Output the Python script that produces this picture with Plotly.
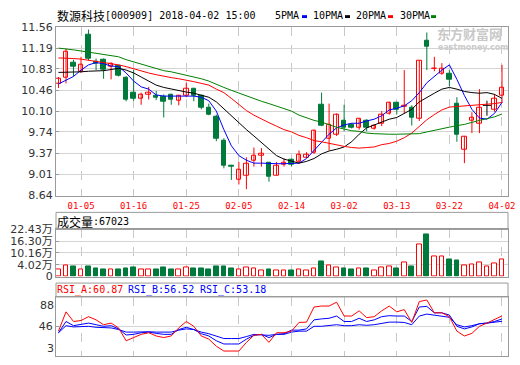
import plotly.graph_objects as go

# ---------------- data ----------------
dates = ["01-02", "01-03", "01-04", "01-05", "01-08", "01-09", "01-10", "01-11", "01-12", "01-15",
         "01-16", "01-17", "01-18", "01-19", "01-22", "01-23", "01-24", "01-25", "01-26", "01-29",
         "01-30", "01-31", "02-01", "02-02", "02-05", "02-06", "02-07", "02-08", "02-09", "02-12",
         "02-13", "02-14", "02-22", "02-23", "02-26", "02-27", "02-28", "03-01", "03-02", "03-05",
         "03-06", "03-07", "03-08", "03-09", "03-12", "03-13", "03-14", "03-15", "03-16", "03-19",
         "03-20", "03-21", "03-22", "03-23", "03-26", "03-27", "03-28", "03-29", "03-30", "04-02"]

open_ = [10.57, 10.67, 10.93, 10.79, 11.43, 10.95, 10.99, 10.87, 10.88, 10.67,
         10.41, 10.32, 10.39, 10.36, 10.35, 10.38, 10.28, 10.37, 10.49, 10.36,
         10.15, 10.01, 9.58, 9.16, 8.92, 8.98, 9.24, 9.33, 9.20, 8.99,
         9.18, 9.26, 9.22, 9.30, 9.38, 10.21, 9.63, 9.69, 9.94, 9.86,
         9.81, 9.93, 9.80, 9.89, 10.06, 10.24, 10.17, 10.15, 9.96, 11.32,
         10.83, 10.75, 10.74, 10.23, 9.43, 9.93, 9.89, 10.20, 10.12, 10.36]
high = [10.69, 11.18, 10.99, 11.04, 11.51, 11.01, 11.01, 10.94, 10.90, 10.70,
        10.81, 10.42, 10.52, 10.45, 10.39, 10.40, 10.38, 10.59, 10.49, 10.38,
        10.23, 10.04, 9.63, 9.17, 9.22, 9.30, 9.47, 9.46, 9.22, 9.22,
        9.28, 9.28, 9.42, 9.39, 9.78, 10.42, 10.23, 10.06, 10.21, 9.89,
        9.98, 9.96, 9.87, 10.10, 10.26, 10.26, 10.81, 10.20, 10.98, 11.46,
        11.04, 10.93, 10.81, 10.34, 9.67, 10.08, 10.48, 10.28, 10.39, 10.90]
low = [10.50, 10.58, 10.70, 10.76, 10.98, 10.81, 10.66, 10.65, 10.70, 10.27,
       10.28, 10.21, 10.30, 10.29, 9.99, 10.21, 10.20, 10.34, 10.27, 10.13,
       10.03, 9.58, 9.11, 8.91, 8.83, 8.75, 9.14, 9.14, 8.88, 8.99,
       9.14, 9.14, 9.19, 9.29, 9.36, 9.84, 9.42, 9.67, 9.75, 9.80,
       9.78, 9.75, 9.78, 9.84, 10.04, 10.04, 10.06, 9.85, 9.93, 10.81,
       10.79, 10.73, 10.53, 9.57, 9.20, 9.72, 9.72, 10.02, 10.09, 10.24]
close = [10.66, 11.12, 10.86, 10.90, 11.01, 10.92, 10.81, 10.92, 10.71, 10.29,
         10.32, 10.38, 10.42, 10.34, 10.27, 10.30, 10.36, 10.48, 10.37, 10.15,
         10.04, 9.62, 9.16, 9.13, 9.09, 9.19, 9.32, 9.36, 8.97, 9.16,
         9.20, 9.18, 9.34, 9.35, 9.76, 9.85, 9.86, 10.03, 9.82, 9.81,
         9.96, 9.82, 9.85, 10.04, 10.24, 10.13, 10.20, 9.98, 10.97, 11.22,
         10.84, 10.83, 10.65, 9.70, 9.65, 9.99, 10.15, 10.20, 10.32, 10.51]

ma5 = [10.57, 10.64, 10.70, 10.81, 10.90, 10.94, 10.92, 10.88, 10.87, 10.76,
       10.62, 10.52, 10.48, 10.38, 10.36, 10.36, 10.36, 10.36, 10.36, 10.34,
       10.28, 10.10, 9.78, 9.50, 9.33, 9.25, 9.20, 9.20, 9.19, 9.19,
       9.19, 9.19, 9.20, 9.28, 9.42, 9.56, 9.70, 9.81, 9.86, 9.89,
       9.89, 9.93, 9.96, 10.02, 10.12, 10.15, 10.19, 10.28, 10.42, 10.59,
       10.70, 10.81, 10.90, 10.65, 10.37, 10.13, 9.98, 9.96, 10.06, 10.25]
ma10 = [10.77, 10.77, 10.78, 10.78, 10.79, 10.79, 10.80, 10.82, 10.84, 10.81,
        10.76, 10.69, 10.62, 10.55, 10.51, 10.48, 10.45, 10.43, 10.41, 10.38,
        10.34, 10.26, 10.14, 10.01, 9.90, 9.78, 9.67, 9.56, 9.44, 9.33,
        9.27, 9.24, 9.20, 9.23, 9.28, 9.36, 9.41, 9.44, 9.48, 9.57,
        9.70, 9.81, 9.86, 9.92, 9.96, 9.99, 10.06, 10.13, 10.26, 10.34,
        10.41, 10.48, 10.51, 10.48, 10.44, 10.42, 10.41, 10.42, 10.39, 10.32]
ma20 = [11.02, 11.02, 11.01, 11.00, 10.98, 10.97, 10.95, 10.93, 10.90, 10.87,
        10.83, 10.79, 10.76, 10.73, 10.70, 10.68, 10.66, 10.64, 10.61, 10.58,
        10.55, 10.48, 10.42, 10.32, 10.21, 10.11, 10.03, 9.96, 9.90, 9.84,
        9.78, 9.74, 9.68, 9.64, 9.59, 9.57, 9.54, 9.52, 9.49, 9.47,
        9.46, 9.47, 9.48, 9.52, 9.54, 9.58, 9.64, 9.72, 9.84, 9.95,
        10.04, 10.12, 10.17, 10.18, 10.18, 10.19, 10.20, 10.21, 10.23, 10.25]
ma30 = [11.19, 11.18, 11.16, 11.14, 11.12, 11.09, 11.08, 11.06, 11.04, 10.99,
        10.95, 10.92, 10.87, 10.83, 10.80, 10.78, 10.75, 10.72, 10.70, 10.66,
        10.62, 10.56, 10.51, 10.46, 10.41, 10.36, 10.31, 10.27, 10.23, 10.19,
        10.15, 10.10, 10.03, 9.98, 9.94, 9.91, 9.86, 9.82, 9.79, 9.76,
        9.75, 9.72, 9.71, 9.70, 9.70, 9.70, 9.70, 9.70, 9.71, 9.74,
        9.77, 9.80, 9.82, 9.85, 9.87, 9.91, 9.94, 9.97, 10.00, 10.05]

volume_wan = [1.49, 3.67, 3.17, 1.83, 3.17, 2.16, 1.66, 1.66, 1.66, 2.16,
              2.66, 1.66, 1.66, 1.66, 2.66, 1.66, 1.66, 2.66, 2.16, 2.16,
              1.83, 3.17, 3.17, 2.16, 1.66, 2.50, 2.16, 1.16, 1.49, 0.82,
              0.82, 1.16, 1.49, 0.99, 2.16, 5.68, 3.50, 2.66, 2.16, 1.66,
              2.16, 2.16, 1.16, 2.66, 3.17, 2.16, 5.01, 3.17, 14.56, 19.75,
              8.53, 8.53, 6.85, 6.18, 3.50, 4.01, 5.01, 3.17, 4.51, 6.70]

rsi_a = [39.1, 66.7, 52.9, 54.3, 59.8, 55.2, 48.3, 50.6, 43.7, 25.3,
         29.9, 34.5, 36.8, 32.2, 29.9, 32.2, 43.7, 52.9, 46.0, 32.2,
         27.6, 17.5, 10.6, 10.6, 10.6, 23.0, 33.1, 34.5, 23.0, 36.8,
         36.8, 39.1, 51.5, 52.0, 73.6, 75.0, 75.0, 80.5, 60.7, 60.7,
         68.1, 58.4, 59.8, 68.1, 75.0, 66.7, 69.9, 51.5, 81.4, 83.7,
         65.3, 65.3, 59.8, 39.1, 32.2, 35.9, 46.0, 50.6, 55.2, 60.87]
rsi_b = [36.8, 52.9, 46.9, 48.3, 50.6, 48.3, 46.0, 46.9, 42.3, 33.6,
         34.5, 36.8, 37.7, 35.9, 34.5, 34.5, 41.4, 44.6, 41.4, 35.4,
         32.2, 25.3, 20.7, 20.7, 20.7, 27.6, 33.1, 34.5, 29.9, 34.5,
         35.4, 40.5, 40.5, 42.3, 55.2, 56.6, 57.5, 60.7, 52.9, 52.9,
         57.5, 52.9, 55.2, 59.8, 61.2, 60.7, 60.7, 52.9, 73.6, 74.5,
         65.3, 65.3, 62.1, 46.0, 42.3, 45.1, 49.7, 50.6, 52.9, 56.52]
rsi_c = [36.8, 46.9, 45.1, 45.1, 46.0, 44.6, 43.7, 43.7, 41.4, 37.7,
         37.7, 38.2, 38.2, 37.7, 37.7, 37.7, 40.5, 42.3, 41.4, 37.7,
         35.4, 32.2, 28.5, 28.5, 28.5, 31.3, 34.5, 33.6, 33.1, 34.5,
         34.5, 37.7, 39.1, 39.1, 46.0, 46.0, 46.9, 48.3, 46.9, 46.9,
         48.3, 47.4, 48.3, 50.6, 52.0, 52.0, 51.5, 48.3, 60.7, 63.5,
         62.1, 60.7, 58.9, 48.3, 45.1, 46.9, 49.7, 50.6, 51.5, 53.18]

date_ticks = ["01-05", "01-16", "01-25", "02-05", "02-14", "03-02", "03-13", "03-22", "04-02"]
price_ticks = [11.56, 11.19, 10.83, 10.46, 10.10, 9.74, 9.37, 9.01, 8.64]
vol_ticks = [22.43, 16.30, 10.16, 4.02]
vol_axis_min = -2.11
rsi_ticks = [88, 46, 3]

title_cn = "数源科技"
title_rest = "[000909] 2018-04-02 15:00"
vol_header_cn = "成交量"
vol_header_val = ":67023"
rsi_labels = ["RSI_A:60.87", "RSI_B:56.52", "RSI_C:53.18"]
ma_labels = ["5PMA", "10PMA", "20PMA", "30PMA"]

# ---------------- style ----------------
W, H = 520, 365
PL, PR = 56, 508
RED = "#ff0000"
GREEN = "#007a3c"
BLUE = "#0000ff"
MA_COLORS = ["#0000ff", "#000000", "#ff0000", "#008000"]
BORDER = "#9a9a9a"
HGRID = "#d4d4d4"
VGRID = "#c8c8c8"
MONO = "DejaVu Sans Mono, Noto Sans CJK SC"
CJK = "Noto Sans CJK SC"
SANS = "DejaVu Sans, Noto Sans CJK SC"


def fx(p):
    return (p - PL) / (PR - PL)


def fy(p):
    return 1 - p / H


x = list(range(len(dates)))
up = [i for i in x if close[i] > open_[i]]
down = [i for i in x if close[i] < open_[i]]
flat = [i for i in x if close[i] == open_[i]]


def wicks(idx):
    xs, ys = [], []
    for i in idx:
        xs += [i, i, None]
        ys += [low[i], high[i], None]
    return xs, ys


fig = go.Figure()

# wicks
for idx, col in ((up, RED), (down, GREEN), (flat, "#000000")):
    wx, wy = wicks(idx)
    fig.add_trace(go.Scatter(x=wx, y=wy, mode="lines", line=dict(color=col, width=1),
                             hoverinfo="skip", showlegend=False, xaxis="x", yaxis="y"))

# bodies
fig.add_trace(go.Bar(x=up, y=[close[i] - open_[i] for i in up], base=[open_[i] for i in up],
                     width=0.6, marker=dict(color="#ffffff", line=dict(color=RED, width=1)),
                     showlegend=False, xaxis="x", yaxis="y"))
fig.add_trace(go.Bar(x=down, y=[open_[i] - close[i] for i in down], base=[close[i] for i in down],
                     width=0.6, marker=dict(color=GREEN, line=dict(color=GREEN, width=1)),
                     showlegend=False, xaxis="x", yaxis="y"))
fig.add_trace(go.Scatter(x=flat, y=[close[i] for i in flat], mode="markers",
                         marker=dict(symbol="line-ew", size=6, line=dict(color="#000000", width=1)),
                         showlegend=False, xaxis="x", yaxis="y"))

# moving averages
for ma, col, name in zip((ma5, ma10, ma20, ma30), MA_COLORS, ma_labels):
    fig.add_trace(go.Scatter(x=x, y=ma, mode="lines", name=name, line=dict(color=col, width=1),
                             showlegend=False, xaxis="x", yaxis="y"))

# volume
vol_up = [i for i in x if close[i] >= open_[i]]
vol_dn = [i for i in x if close[i] < open_[i]]
fig.add_trace(go.Bar(x=vol_up, y=[volume_wan[i] - vol_axis_min for i in vol_up],
                     base=[vol_axis_min] * len(vol_up), width=0.62,
                     marker=dict(color="#ffffff", line=dict(color=RED, width=1)),
                     showlegend=False, xaxis="x2", yaxis="y2"))
fig.add_trace(go.Bar(x=vol_dn, y=[volume_wan[i] - vol_axis_min for i in vol_dn],
                     base=[vol_axis_min] * len(vol_dn), width=0.62,
                     marker=dict(color=GREEN, line=dict(color=GREEN, width=1)),
                     showlegend=False, xaxis="x2", yaxis="y2"))

# RSI
for r, col in ((rsi_c, BLUE), (rsi_b, BLUE), (rsi_a, RED)):
    fig.add_trace(go.Scatter(x=x, y=r, mode="lines", line=dict(color=col, width=1),
                             showlegend=False, xaxis="x3", yaxis="y3"))

tickvals = [dates.index(d) for d in date_ticks]
xcommon = dict(range=[-0.33, 59.8], tickvals=tickvals, showgrid=True, gridcolor=VGRID,
               griddash="dash", gridwidth=1, zeroline=False, showline=True, linecolor=BORDER,
               linewidth=1, mirror=True, ticks="", fixedrange=True, domain=[0, 1])

MAIN_DOM = [fy(196.5), fy(21.5)]
VOL_DOM = [fy(280.5), fy(231.7)]
RSI_DOM = [fy(363.3), fy(301.7)]

ycommon = dict(showline=True, linecolor=BORDER, linewidth=1, mirror=True, zeroline=False,
               ticks="inside", ticklen=3, tickcolor=BORDER, fixedrange=True,
               tickfont=dict(family=SANS, size=11, color="#333333"))

fig.update_layout(
    width=W, height=H, margin=dict(l=PL, r=W - PR, t=0, b=0),
    paper_bgcolor="#ffffff", plot_bgcolor="#ffffff", barmode="overlay", bargap=0,
    showlegend=False,
    xaxis=dict(**xcommon, anchor="y", showticklabels=True, ticktext=date_ticks,
               ticklabelstandoff=2,
               tickfont=dict(family="DejaVu Sans Mono", size=9, color=RED)),
    xaxis2=dict(**xcommon, anchor="y2", showticklabels=False),
    xaxis3=dict(**xcommon, anchor="y3", showticklabels=False),
    yaxis=dict(**ycommon, domain=MAIN_DOM, range=[price_ticks[-1], price_ticks[0]],
               tickvals=price_ticks, ticktext=["%.2f" % v for v in price_ticks],
               showgrid=True, gridcolor=HGRID, gridwidth=1),
    yaxis2=dict(**ycommon, domain=VOL_DOM, range=[vol_axis_min, vol_ticks[0]],
                tickvals=vol_ticks + [vol_axis_min],
                ticktext=["%.2f万" % v for v in vol_ticks] + ["0"],
                showgrid=True, gridcolor=HGRID, gridwidth=1),
    yaxis3=dict(**ycommon, domain=RSI_DOM, range=[rsi_ticks[-1], rsi_ticks[0]],
                tickvals=[rsi_ticks[1]], ticktext=[str(rsi_ticks[1])],
                showgrid=True, gridcolor=HGRID, gridwidth=1),
)

ann = []


def text(s, xp, yp, family, size, color="#000000", anchor="left", bold=False):
    if bold:
        s = "<b>" + s + "</b>"
    ann.append(dict(text=s, x=fx(xp), y=fy(yp), xref="paper", yref="paper", xanchor=anchor,
                    yanchor="middle", showarrow=False, borderpad=0, borderwidth=0,
                    font=dict(family=family, size=size, color=color)))


text(title_cn, 57, 9.5, CJK, 12)
text(title_rest, 105, 10, MONO, 10)
for lab, xp in zip(ma_labels, (275, 313, 356, 400)):
    text(lab, xp, 10, MONO, 10)
text(vol_header_cn, 57, 223, CJK, 12)
text(vol_header_val, 93, 223.5, MONO, 10)
for lab, xp, col in zip(rsi_labels, (57, 128, 200), (RED, BLUE, BLUE)):
    text(lab, xp, 294.5, MONO, 10, col)
# outer RSI tick labels (drawn inset like the original)
text(str(rsi_ticks[0]), 54, 311, SANS, 11, "#333333", anchor="right")
text(str(rsi_ticks[2]), 54, 355.3, SANS, 11, "#333333", anchor="right")
# watermark
text("东方财富网", 437, 28, CJK, 13, "#c8c8c8", bold=True)
text("eastmoney.com", 438, 43, "DejaVu Sans", 8, "#cccccc", bold=True)

shapes = []
for col, xp in zip(MA_COLORS, (302, 345, 388, 431)):
    shapes.append(dict(type="rect", xref="paper", yref="paper", x0=fx(xp), x1=fx(xp + 5),
                       y0=fy(12.5), y1=fy(9.5), fillcolor=col, line=dict(width=0)))
shapes.append(dict(type="rect", xref="paper", yref="paper", x0=0, x1=1, y0=fy(231.7), y1=fy(214),
                   line=dict(color=BORDER, width=1), fillcolor="rgba(0,0,0,0)"))
shapes.append(dict(type="rect", xref="paper", yref="paper", x0=0, x1=1, y0=fy(301.7), y1=fy(287.3),
                   line=dict(color=BORDER, width=1), fillcolor="rgba(0,0,0,0)"))

fig.update_layout(annotations=ann, shapes=shapes)
fig.write_html("out.html")
